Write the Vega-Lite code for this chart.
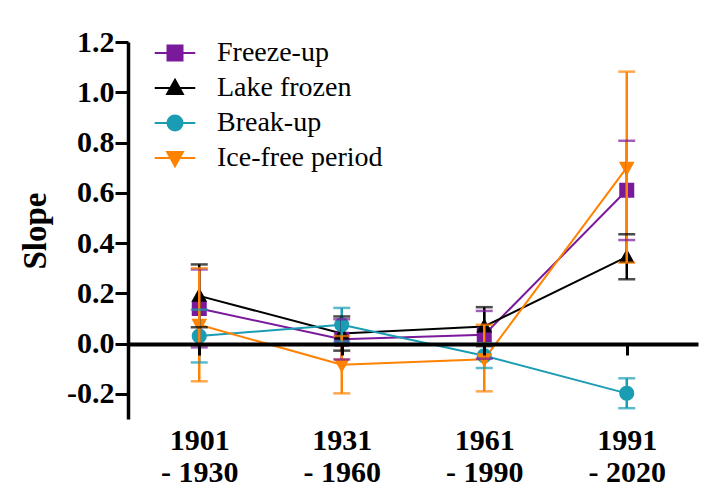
{
  "$schema": "https://vega.github.io/schema/vega-lite/v6.json",
  "width": 570,
  "height": 377,
  "autosize": {"type": "none"},
  "padding": {"left": 128, "top": 42, "right": 18, "bottom": 76},
  "background": "white",
  "config": {
    "view": {"stroke": null},
    "font": "Liberation Serif, Times New Roman, serif",
    "legend": {"labelFont": "Liberation Serif, Times New Roman, serif"},
    "axis": {"grid": false, "domainColor": "black", "tickColor": "black", "labelColor": "black", "titleColor": "black", "labelFont": "Liberation Serif, Times New Roman, serif", "titleFont": "Liberation Serif, Times New Roman, serif"}
  },
  "data": {
    "values": [
      {"period": "1901 - 1930", "series": "Freeze-up", "slope": 0.14, "lo": -0.015, "hi": 0.295},
      {"period": "1901 - 1930", "series": "Lake frozen", "slope": 0.19, "lo": 0.065, "hi": 0.315},
      {"period": "1901 - 1930", "series": "Break-up", "slope": 0.03, "lo": -0.075, "hi": 0.135},
      {"period": "1901 - 1930", "series": "Ice-free period", "slope": 0.075, "lo": -0.15, "hi": 0.3},
      {"period": "1931 - 1960", "series": "Freeze-up", "slope": 0.017, "lo": -0.063, "hi": 0.097},
      {"period": "1931 - 1960", "series": "Lake frozen", "slope": 0.04, "lo": -0.028, "hi": 0.108},
      {"period": "1931 - 1960", "series": "Break-up", "slope": 0.075, "lo": 0.008, "hi": 0.142},
      {"period": "1931 - 1960", "series": "Ice-free period", "slope": -0.084, "lo": -0.198, "hi": 0.03},
      {"period": "1961 - 1990", "series": "Freeze-up", "slope": 0.035, "lo": -0.06, "hi": 0.13},
      {"period": "1961 - 1990", "series": "Lake frozen", "slope": 0.068, "lo": -0.01, "hi": 0.145},
      {"period": "1961 - 1990", "series": "Break-up", "slope": -0.048, "lo": -0.097, "hi": 0.0},
      {"period": "1961 - 1990", "series": "Ice-free period", "slope": -0.062, "lo": -0.19, "hi": 0.075},
      {"period": "1991 - 2020", "series": "Freeze-up", "slope": 0.61, "lo": 0.412, "hi": 0.807},
      {"period": "1991 - 2020", "series": "Lake frozen", "slope": 0.345, "lo": 0.256, "hi": 0.435},
      {"period": "1991 - 2020", "series": "Break-up", "slope": -0.198, "lo": -0.257, "hi": -0.138},
      {"period": "1991 - 2020", "series": "Ice-free period", "slope": 0.7, "lo": 0.322, "hi": 1.082}
    ]
  },
  "encoding": {
    "x": {
      "field": "period",
      "type": "nominal",
      "sort": null,
      "scale": {"type": "point", "padding": 0.5},
      "axis": {
        "title": null,
        "orient": "bottom",
        "offset": -75,
        "zindex": 1,
        "domainWidth": 4,
        "tickSize": 11,
        "tickWidth": 3,
        "labelAngle": 0,
        "labelPadding": 70,
        "labelFontSize": 30,
        "labelFontWeight": "bold",
        "labelLineHeight": 32,
        "labelExpr": "[split(datum.label, ' - ')[0], '- ' + split(datum.label, ' - ')[1]]"
      }
    },
    "color": {
      "field": "series",
      "type": "nominal",
      "scale": {
        "domain": ["Freeze-up", "Lake frozen", "Break-up", "Ice-free period"],
        "range": ["#7a1a9a", "#000000", "#1a9cb3", "#ff8200"]
      },
      "legend": {
        "orient": "none",
        "legendX": 33,
        "legendY": -3,
        "title": null,
        "labelFont": "Liberation Serif, Times New Roman, serif",
        "labelFontSize": 28,
        "labelColor": "black",
        "labelOffset": 28,
        "labelLimit": 400,
        "symbolSize": 225,
        "rowPadding": 7,
        "encode": {
          "labels": {
            "update": {
              "font": {"value": "Liberation Serif, Times New Roman, serif"},
              "fontWeight": {"value": "normal"}
            }
          },
          "symbols": {
            "update": {
              "shape": {"scale": "shape", "field": "value"},
              "fill": {"scale": "color", "field": "value"},
              "stroke": {"scale": "color", "field": "value"},
              "strokeWidth": {"value": 2},
              "opacity": {"value": 1},
              "strokeDash": {"value": []}
            }
          }
        }
      }
    }
  },
  "layer": [
    {
      "mark": {"type": "line", "strokeWidth": 2},
      "encoding": {
        "y": {
          "field": "slope",
          "type": "quantitative",
          "title": "Slope",
          "scale": {"domain": [-0.3, 1.2], "nice": false, "zero": false},
          "axis": {
            "values": [-0.2, 0, 0.2, 0.4, 0.6, 0.8, 1.0, 1.2],
            "labelExpr": "datum.value < 0 ? '-' + format(-datum.value, '.1f') : format(datum.value, '.1f')",
            "domainWidth": 3.5,
            "tickWidth": 3,
            "tickSize": 13,
            "labelPadding": 1,
            "labelFontSize": 30,
            "labelFontWeight": "bold",
            "titleFontSize": 33,
            "titleFontWeight": "bold",
            "titlePadding": 14
          }
        }
      }
    },
    {
      "mark": {"type": "point", "filled": true, "opacity": 1, "size": 225, "strokeWidth": 0},
      "encoding": {
        "y": {"field": "slope", "type": "quantitative", "title": "Slope"},
        "shape": {
          "field": "series",
          "type": "nominal",
          "scale": {
            "domain": ["Freeze-up", "Lake frozen", "Break-up", "Ice-free period"],
            "range": [
              "M-2.7,0H2.7M-1,-1H1V1H-1Z",
              "M-2.7,0H2.7M0,-1.1L1.05,0.8L-1.05,0.8Z",
              "M-2.7,0H2.7M1,0A1,1,0,1,1,-1,0A1,1,0,1,1,1,0Z",
              "M-2.7,0H2.7M0,1.1L1.05,-0.8L-1.05,-0.8Z"
            ]
          },
          "legend": null
        }
      }
    },
    {
      "mark": {"type": "rule", "strokeWidth": 2.5},
      "encoding": {
        "y": {"field": "lo", "type": "quantitative", "title": "Slope"},
        "y2": {"field": "hi"}
      }
    },
    {
      "mark": {"type": "tick", "orient": "horizontal", "thickness": 2.5, "size": 17},
      "encoding": {
        "y": {"field": "lo", "type": "quantitative", "title": "Slope"}
      }
    },
    {
      "mark": {"type": "tick", "orient": "horizontal", "thickness": 2.5, "size": 17},
      "encoding": {
        "y": {"field": "hi", "type": "quantitative", "title": "Slope"}
      }
    }
  ]
}
